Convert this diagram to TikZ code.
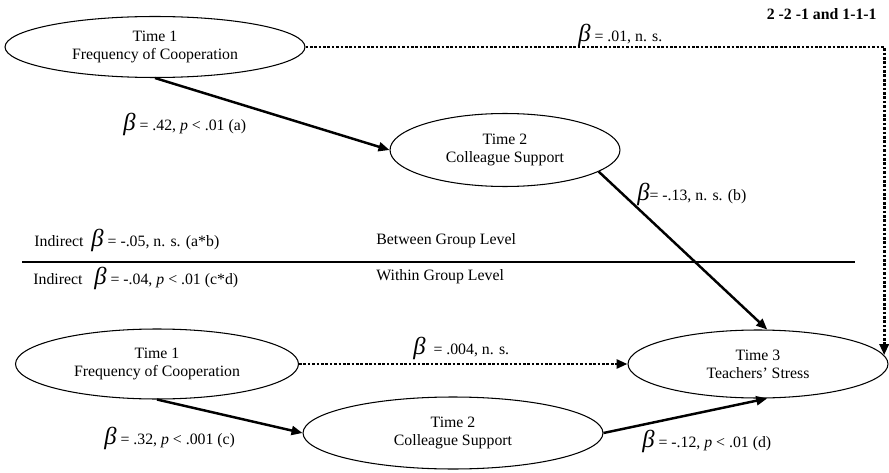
\documentclass[tikz,border=0pt]{standalone}
\usepackage{fontspec}
\setmainfont{Liberation Serif}
\usetikzlibrary{shapes.geometric}
\usetikzlibrary{arrows.meta}
\tikzstyle{var}=[ellipse,draw,line width=0.6pt,inner sep=0pt,align=center,font=\fontsize{9}{10.2}\selectfont]
\tikzstyle{effect}=[line width=1.4pt,-{Triangle[length=2.2mm,width=1.8mm]}]
\tikzstyle{nseffect}=[line width=1.6pt,dash pattern=on 1.5pt off 1pt,-{Triangle[length=2.2mm,width=1.8mm]}]
\tikzstyle{est}=[anchor=west,inner sep=0pt,font=\fontsize{9}{10.2}\selectfont]
\newcommand{\bet}{{\fontsize{14}{14}\selectfont\itshape β}}

\begin{document}
\begin{tikzpicture}[x=0.02cm,y=-0.02cm]
\useasboundingbox (0,0) rectangle (889,473);
	% between group level
	\node[var,minimum width=6cm,minimum height=1.22cm] (cooptop) at (155,47) {Time 1\\Frequency of Cooperation};
	\node[var,minimum width=4.6cm,minimum height=1.46cm] (supptop) at (505,150) {Time 2\\Colleague Support};
	% within group level
	\node[var,minimum width=5.66cm,minimum height=1.4cm] (coopbot) at (157,364) {Time 1\\Frequency of Cooperation};
	\node[var,minimum width=6cm,minimum height=1.44cm] (suppbot) at (453,433) {Time 2\\Colleague Support};
	\node[var,minimum width=5.2cm,minimum height=1.36cm] (stress) at (758,364) {Time 3\\Teachers' Stress};
	% level separator
	\draw[line width=1.6pt] (22,262) -- (855,262);
	% paths
	\draw[effect] (cooptop.south) -- (supptop.west);
	\draw[effect] (supptop.-13) -- (stress.75);
	\draw[nseffect] (cooptop.east) -| (stress.4);
	\draw[nseffect] (coopbot.east) -- (stress.west);
	\draw[effect] (coopbot.south) -- (suppbot.west);
	\draw[effect] (suppbot.east) -- (stress.-75);
	% estimates
	\node[est,anchor=east,font=\fontsize{9}{10.2}\selectfont\bfseries] (model) at (877,14) {2 -2 -1 and 1-1-1};
	\node[est] (la) at (123,124) {\bet\ = .42, \textit{p} < .01 (a)};
	\node[est] (lb) at (637,194) {\bet= -.13, n. s. (b)};
	\node[est] (lcdir) at (578,35) {\bet\ = .01, n. s.};
	\node[est] (lc) at (104,438) {\bet\ = .32, \textit{p} < .001 (c)};
	\node[est] (ld) at (642,441) {\bet\ = -.12, \textit{p} < .01 (d)};
	\node[est] (lcwdir) at (413,348) {\bet\ \ = .004, n. s.};
	% indirect effects and level labels
	\node[est] (indb) at (34,240) {Indirect\ \ \bet\ = -.05, n. s. (a*b)};
	\node[est] (indw) at (33,278) {Indirect\ \ \ \bet\ = -.04, \textit{p} < .01 (c*d)};
	\node[est] (lvlb) at (376,241) {Between Group Level};
	\node[est] (lvlw) at (376,277) {Within Group Level};
\end{tikzpicture}
\end{document}
